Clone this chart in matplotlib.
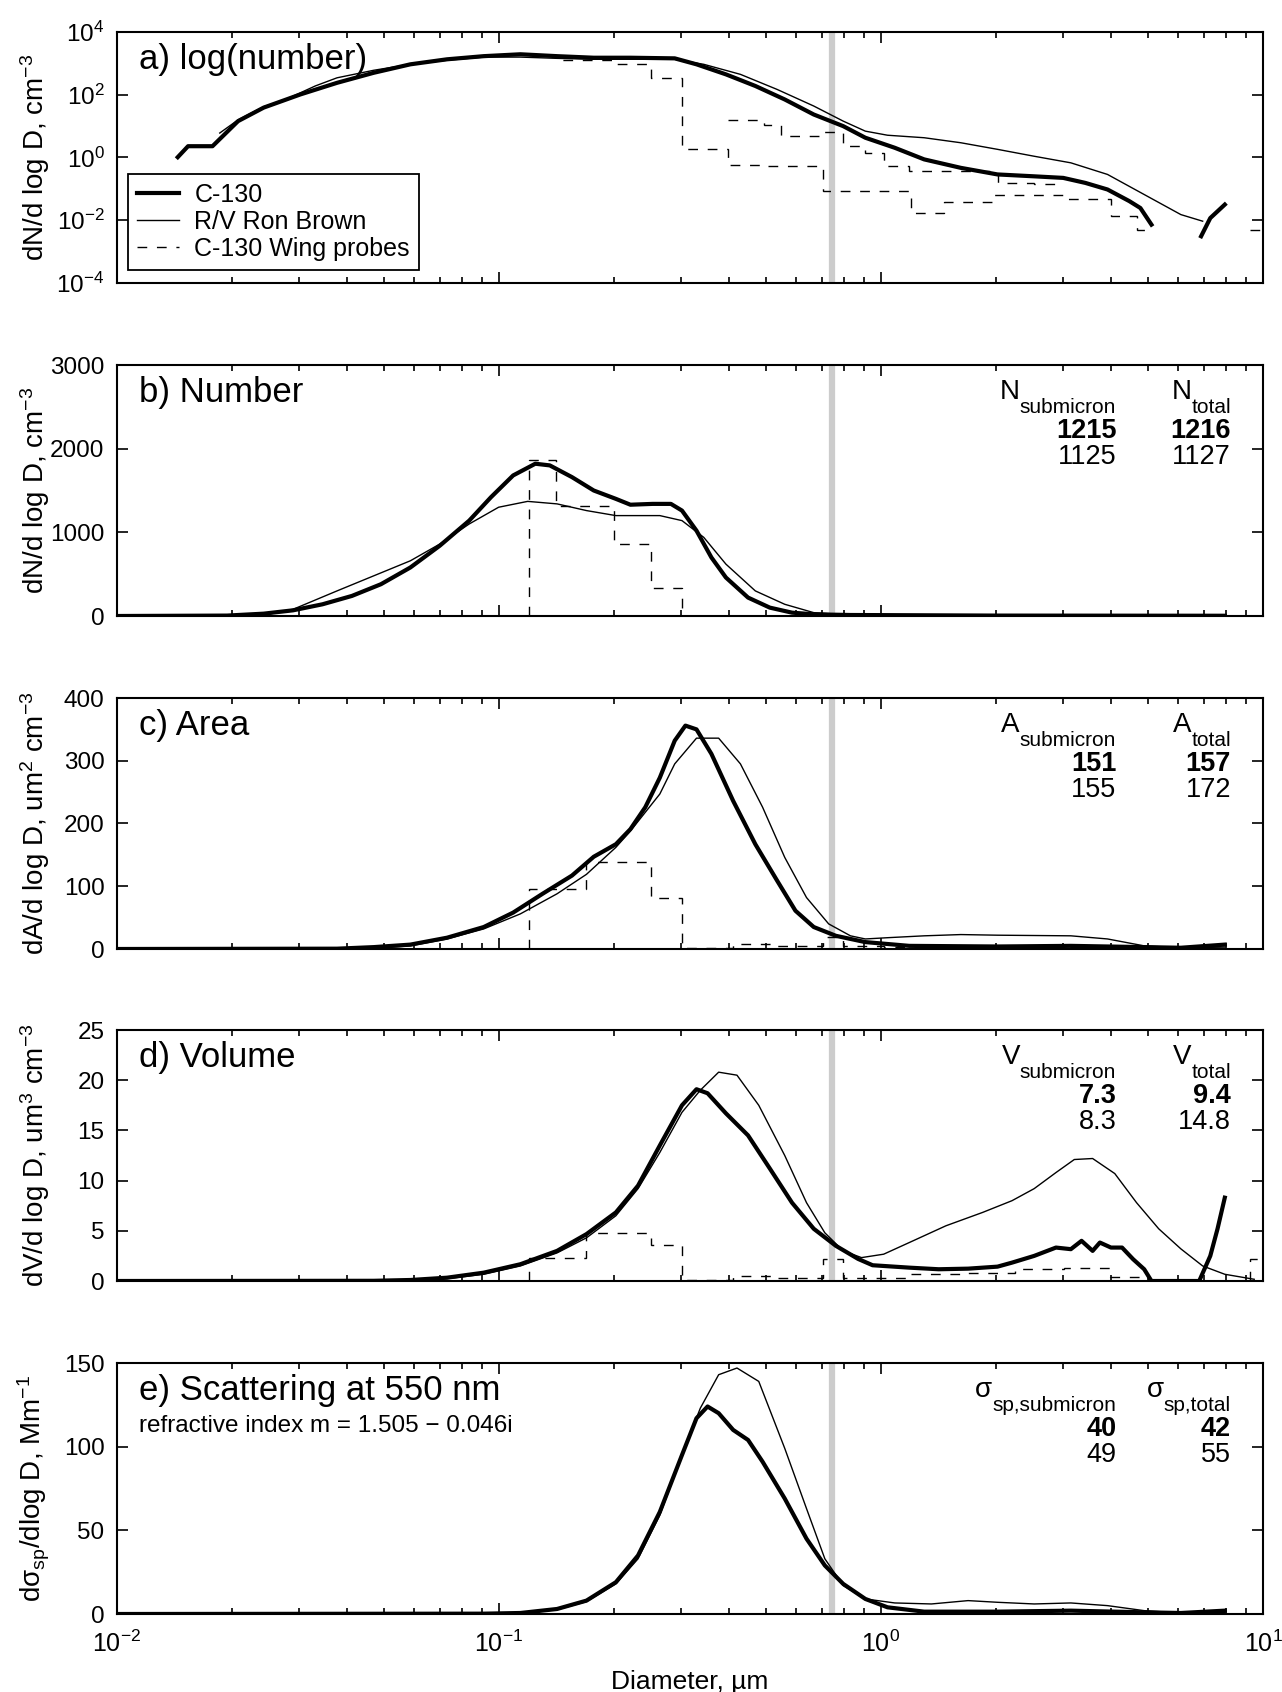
import numpy as np
import matplotlib
matplotlib.use("Agg")
import matplotlib.pyplot as plt
from matplotlib.lines import Line2D
from matplotlib.ticker import LogLocator, NullLocator, NullFormatter, LogFormatterSciNotation

plt.rcParams['font.family'] = ['Liberation Sans', 'DejaVu Sans']
plt.rcParams['mathtext.fontset'] = 'custom'
plt.rcParams['mathtext.rm'] = 'Liberation Sans'
plt.rcParams['mathtext.it'] = 'Liberation Sans:italic'
plt.rcParams['mathtext.bf'] = 'Liberation Sans:bold'

# ---- data (diameters given as log10 of um) ----
# a) log(number): log10 dN/dlogD
a_c130_logd = [-1.841, -1.814, -1.750, -1.683, -1.616, -1.520, -1.424, -1.328, -1.232, -1.136,
               -1.040, -0.944, -0.848, -0.752, -0.656, -0.540, -0.483, -0.406, -0.329, -0.252,
               -0.176, -0.099, -0.041, 0.036, 0.113, 0.209, 0.305, 0.401, 0.477, 0.535,
               0.593, 0.650, 0.679, 0.708]
a_c130_logn = [0.01, 0.36, 0.36, 1.16, 1.59, 2.01, 2.38, 2.70, 2.97, 3.13,
               3.23, 3.29, 3.23, 3.18, 3.18, 3.16, 2.97, 2.65, 2.28, 1.85,
               1.37, 1.00, 0.63, 0.31, -0.06, -0.33, -0.54, -0.60, -0.65, -0.81,
               -1.02, -1.39, -1.61, -2.14]
a_c130_tail_logd = [0.838, 0.862, 0.900]
a_c130_tail_logn = [-2.51, -1.93, -1.50]
a_rhb_logd = [-1.731, -1.683, -1.616, -1.558, -1.481, -1.424, -1.328, -1.232, -1.136, -1.040,
              -0.944, -0.848, -0.752, -0.656, -0.540, -0.464, -0.368, -0.272, -0.176, -0.099,
              -0.041, 0.017, 0.113, 0.209, 0.305, 0.401, 0.497, 0.593, 0.689, 0.785, 0.842]
a_rhb_logn = [0.78, 1.20, 1.62, 1.85, 2.28, 2.54, 2.78, 2.97, 3.10, 3.20,
              3.20, 3.16, 3.13, 3.13, 3.13, 2.97, 2.65, 2.17, 1.64, 1.16,
              0.84, 0.71, 0.63, 0.47, 0.26, 0.04, -0.17, -0.54, -1.18, -1.82, -2.03]
# wing probes, step data (bin edges, log10 values; nan = no bin)
a_wing1_edges = [-0.921, -0.852, -0.698, -0.602, -0.521, -0.401, -0.310, -0.152, 0.079, 0.166,
                 0.290, 0.477, 0.602, 0.669, 0.708, 0.967, 1.0]
a_wing1_logn = [3.27, 3.12, 2.97, 2.54, 0.26, -0.24, -0.28, -1.07, -1.77, -1.41,
                -1.20, -1.31, -1.87, -2.32, np.nan, -2.30]
a_wing2_edges = [-0.401, -0.305, -0.262, -0.152, -0.099, -0.041, 0.007, 0.074, 0.305, 0.401, 0.477]
a_wing2_logn = [1.21, 1.05, 0.68, 0.80, 0.36, 0.15, -0.28, -0.44, -0.81, -0.86]

# b) number
b_c130_logd = [-2.0, -1.712, -1.616, -1.539, -1.462, -1.385, -1.309, -1.232, -1.155, -1.078,
               -1.021, -0.963, -0.905, -0.867, -0.809, -0.752, -0.694, -0.656, -0.598, -0.550,
               -0.521, -0.483, -0.444, -0.406, -0.348, -0.291, -0.233, -0.176, -0.080, 0.3, 0.9]
b_c130_n = [0, 5, 28, 68, 140, 240, 380, 580, 840, 1140,
            1420, 1680, 1820, 1800, 1660, 1500, 1400, 1330, 1340, 1340,
            1260, 1020, 700, 460, 220, 100, 40, 20, 12, 5, 3]
b_rhb_logd = [-2.0, -1.616, -1.539, -1.424, -1.328, -1.232, -1.155, -1.078, -1.001, -0.925,
              -0.848, -0.771, -0.694, -0.579, -0.521, -0.464, -0.406, -0.329, -0.252, -0.176,
              -0.080, 0.5, 0.9]
b_rhb_n = [0, 10, 80, 300, 480, 660, 860, 1100, 1300, 1370,
           1340, 1260, 1200, 1200, 1140, 940, 620, 300, 140, 40,
           12, 3, 1]
b_wing_edges = [-0.921, -0.852, -0.698, -0.602, -0.521, -0.401, -0.152, 0.3]
b_wing_n = [1860, 1320, 860, 340, 2, 1, 0]

# c) area
c_c130_logd = [-2.0, -1.424, -1.328, -1.232, -1.136, -1.040, -0.963, -0.886, -0.809, -0.752,
               -0.694, -0.656, -0.617, -0.579, -0.540, -0.512, -0.483, -0.444, -0.387, -0.329,
               -0.272, -0.224, -0.176, -0.118, -0.041, 0.074, 0.305, 0.497, 0.689, 0.785, 0.900]
c_c130_a = [0, 0.5, 3, 7, 18, 35, 58, 88, 117, 147,
            167, 191, 226, 273, 332, 356, 350, 311, 236, 167,
            109, 61, 35, 21, 11, 5, 4, 5, 3, 2, 7]
c_rhb_logd = [-2.0, -1.328, -1.232, -1.136, -1.040, -0.944, -0.848, -0.771, -0.694, -0.656,
              -0.579, -0.540, -0.483, -0.425, -0.368, -0.310, -0.252, -0.195, -0.137, -0.080,
              -0.041, 0.017, 0.113, 0.209, 0.305, 0.497, 0.593, 0.689, 0.785, 0.900]
c_rhb_a = [0, 1, 5, 16, 32, 56, 88, 119, 162, 188,
           247, 295, 336, 336, 295, 226, 146, 82, 40, 21,
           16, 18, 21, 23, 22, 21, 16, 5, 2, 3]
c_wing_edges = [-0.921, -0.771, -0.602, -0.521, -0.387, -0.272, -0.152, -0.099, 0.007, 0.305, 0.689]
c_wing_a = [96, 139, 82, 1, 8, 5, 19, 4, 3, 3]

# d) volume
d_c130_logd = [-2.0, -1.328, -1.232, -1.136, -1.040, -0.944, -0.848, -0.771, -0.694, -0.636,
               -0.579, -0.521, -0.483, -0.454, -0.406, -0.348, -0.291, -0.233, -0.176, -0.118,
               -0.060, -0.022, 0.074, 0.151, 0.228, 0.305, 0.343, 0.401, 0.458, 0.497,
               0.525, 0.554, 0.573, 0.602, 0.631, 0.660, 0.689, 0.708, 0.833, 0.862, 0.881, 0.900]
d_c130_v = [0, 0.02, 0.1, 0.33, 0.83, 1.67, 3.0, 4.67, 6.83, 9.5,
            13.5, 17.5, 19.1, 18.7, 16.7, 14.5, 11.2, 7.8, 5.2, 3.5,
            2.2, 1.57, 1.33, 1.17, 1.23, 1.43, 1.83, 2.5, 3.33, 3.17,
            4.0, 3.0, 3.83, 3.33, 3.33, 2.17, 1.17, 0.0, 0.0, 2.5, 5.2, 8.3]
d_rhb_logd = [-2.0, -1.232, -1.136, -1.040, -0.944, -0.848, -0.771, -0.694, -0.636, -0.579,
              -0.521, -0.473, -0.425, -0.377, -0.320, -0.252, -0.195, -0.147, -0.099, -0.051,
              0.007, 0.074, 0.170, 0.266, 0.343, 0.401, 0.458, 0.506, 0.554, 0.612,
              0.669, 0.727, 0.785, 0.842, 0.900, 0.977]
d_rhb_v = [0, 0.05, 0.23, 0.67, 1.5, 2.8, 4.3, 6.5, 9.2, 12.8,
           16.8, 19.0, 20.8, 20.5, 17.5, 12.5, 7.8, 4.8, 3.0, 2.33,
           2.67, 3.83, 5.5, 6.83, 8.0, 9.2, 10.8, 12.1, 12.2, 10.7,
           7.8, 5.2, 3.2, 1.5, 0.67, 0.17]
d_wing_edges = [-0.921, -0.771, -0.602, -0.521, -0.387, -0.272, -0.152, -0.099, 0.074, 0.209,
                0.350, 0.480, 0.600, 0.680, 0.967, 1.0]
d_wing_v = [2.3, 4.8, 3.6, 0.05, 0.5, 0.33, 2.2, 0.33, 0.67, 0.83,
            1.17, 1.33, 0.43, np.nan, 2.2]

# e) scattering
e_c130_logd = [-2.0, -1.040, -0.944, -0.848, -0.771, -0.694, -0.636, -0.579, -0.521, -0.483,
               -0.454, -0.425, -0.387, -0.348, -0.310, -0.252, -0.195, -0.147, -0.099, -0.041,
               0.017, 0.113, 0.305, 0.497, 0.689, 0.785, 0.900]
e_c130_s = [0, 0.2, 0.6, 3, 8, 19, 35, 61, 95, 117,
            124, 120, 110, 104, 91, 69, 45, 29, 18, 9,
            4, 1.4, 1.4, 2, 1, 0.6, 2]
e_rhb_logd = [-2.0, -0.944, -0.848, -0.771, -0.694, -0.636, -0.579, -0.521, -0.473, -0.425,
              -0.377, -0.320, -0.252, -0.195, -0.147, -0.099, -0.041, 0.036, 0.132, 0.228,
              0.305, 0.401, 0.497, 0.593, 0.689, 0.785, 0.900]
e_rhb_s = [0, 0.3, 2.6, 7.4, 18, 33, 59, 95, 123, 143,
           147, 139, 99, 63, 33, 17, 9, 6.6, 6, 8,
           7, 6, 6.6, 5, 2, 0.6, 1]

cutoff_d = 0.745  # um, gray vertical line

stats_b = (['1215', '1216'], ['1125', '1127'])
stats_c = (['151', '157'], ['155', '172'])
stats_d = (['7.3', '9.4'], ['8.3', '14.8'])
stats_e = (['40', '42'], ['49', '55'])

# ---- figure ----
fig = plt.figure(figsize=(12.82, 16.92), dpi=100)
FW, FH = 1282.0, 1692.0
tops = [32, 365, 698, 1030, 1363]
axes = []
for t in tops:
    axes.append(fig.add_axes([117 / FW, 1 - (t + 251) / FH, 1146 / FW, 251 / FH]))

THICK = 3.0
THIN = 1.0
DASH = (0, (7, 7))


def wing_steps(ax, edges, vals, baseline):
    # draw step data, one stairs per run of valid bins
    e = 10 ** np.array(edges, float)
    v = np.array(vals, float)
    i = 0
    while i < len(v):
        if np.isnan(v[i]):
            i += 1
            continue
        j = i
        while j < len(v) and not np.isnan(v[j]):
            j += 1
        ax.stairs(v[i:j], e[i:j + 1], baseline=baseline, color='k', lw=THIN,
                  linestyle=DASH, zorder=2)
        i = j


def stats(ax, sym, subs, vals):
    for x, sub, b, r in zip([0.872, 0.972], subs, vals[0], vals[1]):
        st = ax.text(x, 0.808, sub, transform=ax.transAxes, ha='right', va='baseline', fontsize=15)
        ax.annotate(sym, xy=(0, 0.95), xycoords=st, ha='right', va='baseline', fontsize=20)
        ax.text(x, 0.708, b, transform=ax.transAxes, ha='right', va='baseline',
                fontsize=19.5, fontweight='bold')
        ax.text(x, 0.604, r, transform=ax.transAxes, ha='right', va='baseline', fontsize=19.5)


ax = axes[0]
ax.set_yscale('log')
ax.plot(10 ** np.array(a_c130_logd), 10 ** np.array(a_c130_logn), color='k', lw=THICK, zorder=4)
ax.plot(10 ** np.array(a_c130_tail_logd), 10 ** np.array(a_c130_tail_logn), color='k', lw=THICK, zorder=4)
ax.plot(10 ** np.array(a_rhb_logd), 10 ** np.array(a_rhb_logn), color='k', lw=THIN, zorder=3)
wing_steps(ax, a_wing1_edges, 10 ** np.array(a_wing1_logn), None)
wing_steps(ax, a_wing2_edges, 10 ** np.array(a_wing2_logn), None)
ax.set_ylim(1e-4, 1e4)
ax.set_yticks([1e-4, 1e-2, 1, 1e2, 1e4])
ax.yaxis.set_major_formatter(LogFormatterSciNotation())
ax.yaxis.set_minor_locator(NullLocator())
ax.set_ylabel('dN/d log D, cm$^{-3}$')
handles = [Line2D([], [], color='k', lw=THICK), Line2D([], [], color='k', lw=THIN),
           Line2D([], [], color='k', lw=THIN, linestyle=DASH)]
leg = ax.legend(handles, ['C-130', 'R/V Ron Brown', 'C-130 Wing probes'], loc='lower left',
                bbox_to_anchor=(0.0096, 0.052), borderaxespad=0, fontsize=18, fancybox=False,
                framealpha=1, edgecolor='k', handlelength=1.7, handletextpad=0.6,
                labelspacing=0.12, borderpad=0.35)
leg.get_frame().set_linewidth(1.3)
ax.text(0.019, 0.852, 'a) log(number)', transform=ax.transAxes, fontsize=25, va='baseline')

ax = axes[1]
ax.plot(10 ** np.array(b_c130_logd), b_c130_n, color='k', lw=THICK, zorder=4)
ax.plot(10 ** np.array(b_rhb_logd), b_rhb_n, color='k', lw=THIN, zorder=3)
wing_steps(ax, b_wing_edges, b_wing_n, 0)
ax.set_ylim(0, 3000)
ax.set_yticks([0, 1000, 2000, 3000])
ax.set_ylabel('dN/d log D, cm$^{-3}$')
ax.text(0.019, 0.852, 'b) Number', transform=ax.transAxes, fontsize=25, va='baseline')
stats(ax, 'N', ['submicron', 'total'], stats_b)

ax = axes[2]
ax.plot(10 ** np.array(c_c130_logd), c_c130_a, color='k', lw=THICK, zorder=4)
ax.plot(10 ** np.array(c_rhb_logd), c_rhb_a, color='k', lw=THIN, zorder=3)
wing_steps(ax, c_wing_edges, c_wing_a, 0)
ax.set_ylim(0, 400)
ax.set_yticks([0, 100, 200, 300, 400])
ax.set_ylabel('dA/d log D, um$^{2}$ cm$^{-3}$')
ax.text(0.019, 0.852, 'c) Area', transform=ax.transAxes, fontsize=25, va='baseline')
stats(ax, 'A', ['submicron', 'total'], stats_c)

ax = axes[3]
ax.plot(10 ** np.array(d_c130_logd), d_c130_v, color='k', lw=THICK, zorder=4)
ax.plot(10 ** np.array(d_rhb_logd), d_rhb_v, color='k', lw=THIN, zorder=3)
wing_steps(ax, d_wing_edges, d_wing_v, 0)
ax.set_ylim(0, 25)
ax.set_yticks([0, 5, 10, 15, 20, 25])
ax.set_ylabel('dV/d log D, um$^{3}$ cm$^{-3}$')
ax.text(0.019, 0.852, 'd) Volume', transform=ax.transAxes, fontsize=25, va='baseline')
stats(ax, 'V', ['submicron', 'total'], stats_d)

ax = axes[4]
ax.plot(10 ** np.array(e_c130_logd), e_c130_s, color='k', lw=THICK, zorder=4)
ax.plot(10 ** np.array(e_rhb_logd), e_rhb_s, color='k', lw=THIN, zorder=3)
ax.set_ylim(0, 150)
ax.set_yticks([0, 50, 100, 150])
ax.set_ylabel(r'd$\mathrm{\sigma}_{\mathrm{sp}}$/dlog D, Mm$^{-1}$')
ax.text(0.019, 0.852, 'e) Scattering at 550 nm', transform=ax.transAxes, fontsize=25, va='baseline')
ax.text(0.019, 0.725, 'refractive index m = 1.505 \u2212 0.046i', transform=ax.transAxes,
        fontsize=17.5, va='baseline')
stats(ax, '\u03c3', ['sp,submicron', 'sp,total'], stats_e)
ax.set_xlabel('Diameter, \u00b5m', fontsize=19)
ax.xaxis.set_label_coords(0.5, -0.225)

for i, ax in enumerate(axes):
    ax.set_xscale('log')
    ax.set_xlim(0.01, 10)
    ax.axvline(cutoff_d, color='0.8', lw=4.5, zorder=1)
    ax.xaxis.set_major_locator(LogLocator(base=10, numticks=10))
    ax.xaxis.set_minor_locator(LogLocator(base=10, subs=np.arange(2, 10), numticks=10))
    ax.xaxis.set_minor_formatter(NullFormatter())
    ax.tick_params(which='both', direction='in', top=True, right=True, labelsize=17.5, width=1.2)
    ax.tick_params(axis='x', which='major', length=8, pad=12, labelsize=18)
    ax.tick_params(axis='x', which='minor', length=4.5)
    ax.tick_params(axis='y', which='major', length=8, pad=9)
    if i < 4:
        ax.tick_params(axis='x', labelbottom=False)
    for s in ax.spines.values():
        s.set_linewidth(1.5)
    ax.yaxis.label.set_fontsize(20)
    ax.yaxis.set_label_coords(-0.057, 0.5)

fig.savefig('out.png', dpi=100)
